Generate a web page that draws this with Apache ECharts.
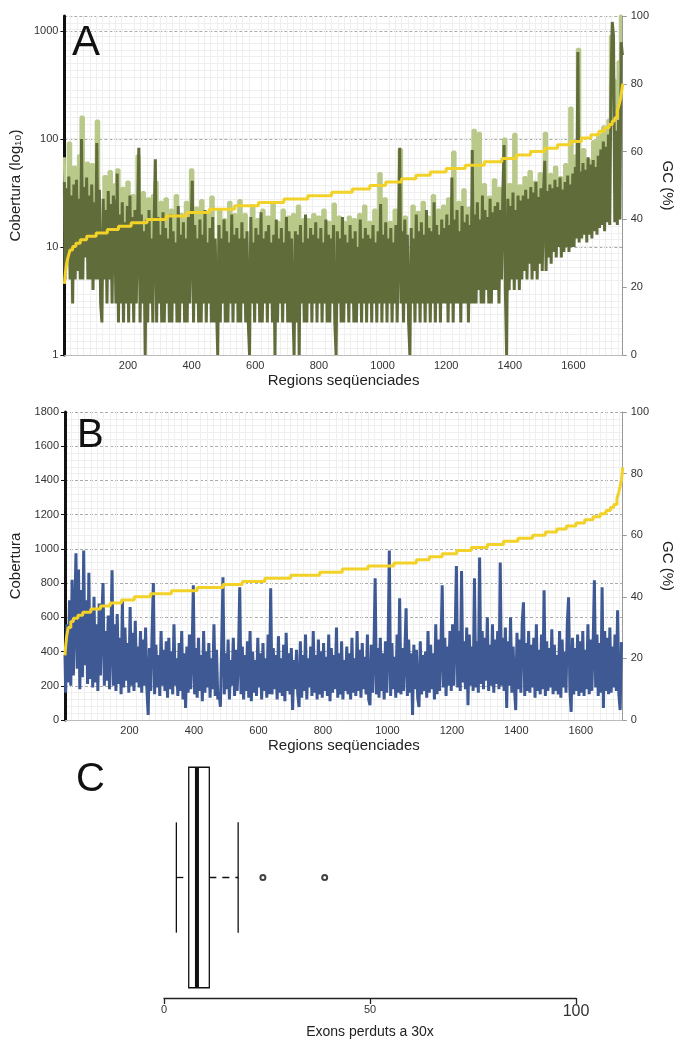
<!DOCTYPE html>
<html>
<head>
<meta charset="utf-8">
<script src="https://cdn.jsdelivr.net/npm/echarts@6/dist/echarts.min.js"></script>
<style>
  html, body { margin: 0; padding: 0; background: #ffffff; }
  #chart { width: 683px; height: 1042px; }
</style>
</head>
<body>
<div id="chart"></div>
<script>
// Regions between two stored coverage samples
const STEP = 4;        // dark sample (panel A) and panel B
const STEP_LIGHT = 8;  // light sample (panel A)

// Panel A: coverage (log scale) of the main sample, one value every STEP regions
const covADark = [
  40, 5, 35, 8, 45, 5, 30, 3, 38, 5, 42, 6, 28, 5, 100, 5, 36, 8, 44, 5,
  30, 5, 38, 4, 26, 5, 92, 5, 34, 3, 2, 28, 5, 22, 3, 33, 5, 25, 3, 30,
  22, 3, 48, 2, 20, 3, 26, 2, 17, 3, 24, 2, 30, 3, 19, 2, 22, 3, 16, 83,
  2, 20, 3, 14, 1, 18, 2, 22, 3, 12, 2, 16, 65, 2, 19, 3, 13, 2, 21, 2,
  15, 3, 12, 2, 20, 2, 14, 3, 11, 2, 24, 2, 13, 3, 17, 2, 12, 2, 19, 3,
  14, 41, 2, 16, 3, 12, 2, 18, 2, 13, 3, 22, 2, 11, 3, 15, 2, 19, 2, 12,
  3, 1, 16, 2, 12, 3, 18, 2, 14, 2, 11, 3, 20, 2, 13, 3, 15, 2, 12, 2,
  17, 3, 12, 2, 14, 2, 1, 19, 3, 11, 2, 15, 3, 13, 2, 21, 2, 12, 3, 14,
  2, 16, 3, 11, 2, 13, 1, 18, 2, 12, 3, 15, 2, 11, 3, 19, 2, 14, 2, 12,
  3, 1, 14, 2, 13, 1, 16, 3, 11, 2, 20, 2, 12, 3, 15, 2, 13, 3, 17, 2,
  12, 3, 15, 2, 11, 3, 18, 2, 13, 2, 12, 3, 16, 2, 1, 14, 3, 12, 2, 19,
  2, 13, 3, 11, 2, 16, 3, 12, 2, 14, 2, 10, 3, 18, 2, 12, 3, 15, 2, 13,
  3, 12, 2, 16, 3, 11, 2, 14, 3, 25, 2, 13, 3, 17, 2, 12, 3, 15, 2, 11,
  3, 16, 2, 12, 83, 3, 14, 2, 18, 3, 13, 2, 1, 15, 3, 12, 2, 20, 3, 14,
  2, 17, 3, 13, 2, 22, 3, 15, 2, 14, 3, 26, 2, 16, 3, 13, 2, 18, 3, 15,
  3, 20, 2, 16, 3, 44, 2, 18, 3, 22, 3, 14, 2, 24, 3, 17, 3, 20, 2, 16,
  3, 79, 3, 20, 3, 26, 4, 18, 3, 30, 3, 22, 4, 19, 3, 28, 3, 21, 4, 24,
  4, 26, 3, 22, 5, 30, 88, 4, 1, 28, 4, 24, 5, 32, 4, 22, 5, 30, 4, 27,
  5, 30, 6, 34, 5, 28, 7, 36, 5, 32, 6, 40, 5, 29, 7, 35, 6, 31, 63, 6,
  33, 8, 38, 7, 35, 9, 42, 8, 36, 10, 44, 8, 34, 9, 40, 10, 46, 9, 38, 10,
  48, 10, 55, 12, 640, 11, 50, 12, 60, 13, 52, 11, 68, 13, 58, 12, 64, 14, 55, 13,
  70, 15, 80, 16, 95, 14, 85, 17, 110, 16, 300, 1214, 900, 17, 120, 16, 150, 18, 790, 600
];
// Panel A: coverage of the second sample, one value every STEP_LIGHT regions
const covALight = [
  68, 10, 92, 8, 55, 12, 70, 160, 10, 60,
  12, 58, 10, 147, 14, 6, 45, 8, 50, 6,
  38, 52, 5, 35, 6, 40, 5, 30, 6, 70,
  5, 32, 4, 28, 6, 30, 40, 5, 26, 5,
  28, 6, 22, 5, 30, 5, 20, 6, 26, 5,
  52, 5, 23, 6, 27, 5, 20, 5, 29, 6,
  5, 22, 5, 18, 6, 26, 5, 20, 5, 27,
  6, 20, 5, 4, 24, 5, 18, 6, 22, 5,
  19, 6, 25, 4, 17, 5, 22, 5, 19, 6,
  20, 4, 24, 4, 18, 5, 18, 6, 20, 5,
  19, 5, 22, 6, 17, 5, 25, 4, 19, 5,
  17, 6, 19, 5, 18, 5, 20, 6, 24, 5,
  17, 5, 22, 6, 48, 5, 28, 6, 17, 5,
  22, 6, 80, 5, 19, 6, 4, 24, 6, 21,
  5, 26, 6, 19, 5, 30, 6, 22, 5, 24,
  6, 28, 6, 76, 5, 26, 6, 34, 6, 23,
  6, 121, 7, 113, 8, 38, 7, 29, 9, 42,
  8, 35, 9, 100, 4, 38, 10, 111, 8, 37,
  10, 44, 9, 50, 12, 40, 10, 48, 10, 113,
  12, 47, 11, 55, 13, 44, 12, 58, 14, 194,
  14, 70, 680, 16, 80, 15, 64, 18, 95, 17,
  110, 19, 130, 20, 150, 900, 350, 21, 520, 1400
];
// Panel A: GC content steps [region where the level starts, GC %]
const gcA = [
  [0, 21], [3, 24], [7, 27], [12, 29], [18, 31], [26, 32], [36, 33], [50, 34],
  [70, 35], [100, 36], [135, 37], [170, 38], [210, 39], [260, 40], [320, 41],
  [385, 42], [455, 43], [535, 44], [610, 45], [690, 46], [765, 47], [840, 48],
  [905, 49], [960, 50], [1010, 51], [1060, 52], [1105, 53], [1150, 54], [1200, 55],
  [1260, 56], [1320, 57], [1375, 58], [1420, 59], [1465, 60], [1510, 61], [1550, 62],
  [1590, 63], [1625, 64], [1655, 65], [1680, 66], [1698, 67], [1712, 68], [1722, 69],
  [1730, 70], [1738, 72], [1744, 74], [1749, 76], [1752, 78], [1755, 80]
];

// Panel B: coverage (linear scale), one value every STEP regions
const covB = [
  380, 160, 560, 220, 700, 200, 820, 260, 600, 974, 300, 880, 180, 760, 250, 991, 320, 700, 210, 860,
  240, 640, 190, 720, 220, 560, 170, 680, 260, 590, 800, 200, 520, 230, 610, 180, 470, 875, 200, 560,
  170, 620, 210, 480, 150, 700, 190, 540, 230, 450, 160, 660, 200, 510, 170, 580, 220, 430, 190, 520,
  160, 470, 200, 540, 180, 30, 420, 170, 500, 800, 150, 440, 190, 380, 140, 520, 200, 410, 170, 460,
  130, 480, 180, 400, 150, 560, 200, 360, 140, 450, 170, 520, 120, 390, 70, 430, 160, 500, 180, 370,
  787, 150, 420, 130, 480, 170, 380, 110, 520, 160, 400, 190, 450, 130, 360, 180, 560, 140, 410, 120,
  160, 77, 440, 834, 150, 390, 180, 470, 120, 350, 200, 480, 140, 410, 170, 370, 776, 150, 430, 120,
  380, 170, 460, 130, 520, 110, 400, 160, 350, 140, 480, 190, 390, 120, 450, 170, 360, 130, 500, 150,
  770, 150, 420, 180, 380, 120, 490, 160, 360, 140, 440, 110, 510, 170, 390, 150, 420, 58, 350, 180,
  410, 150, 76, 460, 130, 380, 170, 500, 120, 360, 190, 430, 140, 520, 160, 380, 120, 470, 150, 400,
  130, 450, 170, 370, 140, 500, 110, 420, 160, 380, 180, 540, 130, 390, 150, 460, 120, 350, 170, 430,
  150, 390, 120, 480, 160, 360, 140, 520, 170, 410, 130, 450, 180, 370, 150, 500, 120, 87, 440, 160,
  380, 828, 150, 420, 130, 480, 170, 390, 120, 460, 160, 410, 990, 140, 450, 180, 370, 130, 500, 160,
  711, 150, 420, 170, 380, 653, 140, 470, 160, 390, 29, 440, 180, 410, 130, 76, 460, 150, 380, 170,
  400, 130, 520, 160, 440, 180, 390, 120, 560, 150, 470, 170, 410, 787, 190, 480, 140, 430, 200, 520,
  170, 560, 200, 480, 900, 190, 520, 170, 870, 220, 460, 180, 540, 87, 500, 200, 430, 170, 828, 190,
  460, 160, 950, 210, 520, 180, 480, 230, 600, 170, 440, 200, 560, 160, 470, 210, 520, 180, 920, 200,
  480, 170, 540, 70, 460, 200, 600, 160, 430, 190, 58, 510, 180, 470, 160, 560, 688, 140, 450, 170,
  520, 160, 440, 190, 480, 130, 560, 170, 410, 150, 500, 180, 758, 140, 460, 170, 420, 190, 530, 150,
  440, 170, 380, 150, 520, 130, 470, 190, 400, 160, 560, 717, 180, 47, 480, 150, 420, 170, 500, 140,
  460, 160, 520, 140, 410, 180, 560, 150, 470, 170, 430, 816, 190, 500, 140, 450, 160, 776, 70, 520,
  170, 480, 150, 540, 160, 430, 190, 500, 170, 641, 150, 58, 455
];
// Panel B: GC content steps [region where the level starts, GC %]
const gcB = [
  [0, 21], [2, 24], [5, 27], [10, 30], [18, 32], [26, 33], [40, 34], [55, 35],
  [80, 36], [110, 37], [140, 38], [175, 39], [215, 40], [265, 41], [330, 42],
  [410, 43], [490, 44], [550, 45], [620, 46], [700, 47], [790, 48], [860, 49],
  [940, 50], [1020, 51], [1090, 52], [1130, 53], [1170, 54], [1215, 55], [1260, 56],
  [1310, 57], [1360, 58], [1405, 59], [1450, 60], [1490, 61], [1525, 62], [1555, 63],
  [1585, 64], [1612, 65], [1638, 66], [1660, 67], [1678, 68], [1692, 69], [1702, 70],
  [1712, 72], [1718, 74], [1722, 76], [1726, 78], [1730, 82]
];

// Panel C: exons lost at 30x — [min, Q1, median, Q3, max] and outliers
const lossBox = [3, 6, 8, 11, 18];
const lossOutliers = [24, 39];

const REGIONS_A = 1755;
const REGIONS_B = 1730;

const FONT = 'Liberation Sans, Arial, Helvetica, sans-serif';
const C_DARK = '#606c3a';
const C_LIGHT = '#b8c98a';
const C_BLUE = '#3e5994';
const C_GC = '#f2d228';
const C_MAJOR = '#aaaaaa';
const C_MINOR = '#efefef';

const toPairs = (arr, step) => arr.map((v, i) => [i * step, v]);
const plain = v => String(Math.round(v));

const labelStyle = { fontFamily: FONT, fontSize: 11, color: '#333' };
const nameStyle = { fontFamily: FONT, fontSize: 15, color: '#222' };

function regionAxis(gridIndex, max) {
  return {
    type: 'value', gridIndex, min: 0, max, interval: 200,
    axisLine: { show: true, lineStyle: { color: '#bbbbbb', width: 1 } },
    axisTick: { show: false },
    axisLabel: Object.assign({ margin: 5, showMinLabel: false, showMaxLabel: false, formatter: plain }, labelStyle),
    splitLine: { show: false },
    minorTick: { show: false, splitNumber: 10 },
    minorSplitLine: { show: true, lineStyle: { color: C_MINOR, width: 1 } },
    name: 'Regions seqüenciades', nameLocation: 'middle', nameGap: 18,
    nameTextStyle: nameStyle
  };
}

function gcAxis(gridIndex) {
  return {
    type: 'value', gridIndex, position: 'right', min: 0, max: 100, interval: 20,
    axisLine: { show: true, lineStyle: { color: '#999999', width: 1 } },
    axisTick: { show: true, length: 4, lineStyle: { color: '#999999' } },
    axisLabel: Object.assign({ margin: 8 }, labelStyle),
    splitLine: { show: false },
    minorTick: { show: false, splitNumber: 10 },
    minorSplitLine: { show: gridIndex === 0, lineStyle: { color: C_MINOR, width: 1 } },
    name: 'GC (%)', nameLocation: 'middle', nameRotate: -90, nameGap: 30,
    nameTextStyle: nameStyle
  };
}

const chart = echarts.init(document.getElementById('chart'), null, { renderer: 'canvas' });

chart.setOption({
  animation: false,
  backgroundColor: '#ffffff',
  grid: [
    { left: 64, top: 16, width: 579, height: 339 },
    { left: 65, top: 412, width: 578, height: 308 },
    { left: 164, top: 757, width: 412, height: 241 }
  ],
  xAxis: [
    regionAxis(0, REGIONS_A),
    regionAxis(1, REGIONS_B),
    {
      type: 'value', gridIndex: 2, min: 0, max: 100, interval: 50,
      axisLine: { show: true, lineStyle: { color: '#222', width: 1.3 } },
      axisTick: { show: true, length: 6, lineStyle: { color: '#222', width: 1.3 } },
      axisLabel: {
        margin: 6, fontFamily: FONT, fontSize: 11, color: '#333',
        formatter: v => (v === 100 ? '{big|100}' : String(v)),
        rich: { big: { fontFamily: FONT, fontSize: 16, color: '#333' } }
      },
      splitLine: { show: false },
      name: 'Exons perduts a 30x', nameLocation: 'middle', nameGap: 27,
      nameTextStyle: { fontFamily: FONT, fontSize: 14, color: '#222' }
    }
  ],
  yAxis: [
    {
      type: 'log', logBase: 10, gridIndex: 0, min: 1, max: 1380,
      axisLine: { show: true, lineStyle: { color: '#111', width: 3 } },
      axisTick: { show: true, length: 4, lineStyle: { color: '#111' } },
      axisLabel: Object.assign({ margin: 6, showMaxLabel: false, formatter: plain }, labelStyle),
      splitLine: { show: true, lineStyle: { color: C_MAJOR, type: [3, 2], width: 1 } },
      name: 'Cobertura (log₁₀)', nameLocation: 'middle', nameGap: 32,
      nameTextStyle: nameStyle
    },
    gcAxis(0),
    {
      type: 'value', gridIndex: 1, min: 0, max: 1800, interval: 200,
      axisLine: { show: true, lineStyle: { color: '#111', width: 3 } },
      axisTick: { show: true, length: 4, lineStyle: { color: '#111' } },
      axisLabel: Object.assign({ margin: 6, formatter: plain }, labelStyle),
      splitLine: { show: true, lineStyle: { color: C_MAJOR, type: [3, 2], width: 1 } },
      minorTick: { show: false, splitNumber: 5 },
      minorSplitLine: { show: true, lineStyle: { color: C_MINOR, width: 1 } },
      name: 'Cobertura', nameLocation: 'middle', nameGap: 32,
      nameTextStyle: nameStyle
    },
    gcAxis(1),
    { type: 'category', gridIndex: 2, data: [''], show: false }
  ],
  series: [
    {
      type: 'line', xAxisIndex: 0, yAxisIndex: 0, data: toPairs(covALight, STEP_LIGHT),
      step: 'middle', showSymbol: false, clip: true, z: 2,
      lineStyle: { color: C_LIGHT, width: 3 }
    },
    {
      type: 'line', xAxisIndex: 0, yAxisIndex: 0, data: toPairs(covADark, STEP),
      step: 'middle', showSymbol: false, clip: true, z: 3,
      lineStyle: { color: C_DARK, width: 3 }
    },
    {
      type: 'line', xAxisIndex: 0, yAxisIndex: 1, data: gcA,
      step: 'end', showSymbol: false, clip: true, z: 4,
      lineStyle: { color: C_GC, width: 3 }
    },
    {
      type: 'line', xAxisIndex: 1, yAxisIndex: 2, data: toPairs(covB, STEP),
      step: 'middle', showSymbol: false, clip: true, z: 3,
      lineStyle: { color: C_BLUE, width: 3 }
    },
    {
      type: 'line', xAxisIndex: 1, yAxisIndex: 3, data: gcB,
      step: 'end', showSymbol: false, clip: true, z: 4,
      lineStyle: { color: C_GC, width: 3 }
    },
    {
      // Box-and-whisker for exons lost at 30x
      type: 'custom', xAxisIndex: 2, yAxisIndex: 4,
      data: [[0].concat(lossBox)],
      renderItem: (params, api) => {
        const band = api.size([0, 1])[1];
        const yc = api.coord([0, 0])[1];
        const xMin = api.coord([api.value(1), 0])[0];
        const xQ1 = api.coord([api.value(2), 0])[0];
        const xMed = api.coord([api.value(3), 0])[0];
        const xQ3 = api.coord([api.value(4), 0])[0];
        const xMax = api.coord([api.value(5), 0])[0];
        const boxH = band * 0.915;
        const capH = boxH * 0.5;
        const ink = { stroke: '#111', lineWidth: 1.3, fill: null };
        const dashed = Object.assign({}, ink, { lineDash: [7, 6] });
        return {
          type: 'group',
          children: [
            { type: 'line', shape: { x1: xMin, y1: yc, x2: xQ1, y2: yc }, style: dashed },
            { type: 'line', shape: { x1: xQ3, y1: yc, x2: xMax, y2: yc }, style: dashed },
            { type: 'line', shape: { x1: xMin, y1: yc - capH / 2, x2: xMin, y2: yc + capH / 2 }, style: ink },
            { type: 'line', shape: { x1: xMax, y1: yc - capH / 2, x2: xMax, y2: yc + capH / 2 }, style: ink },
            { type: 'rect', shape: { x: xQ1, y: yc - boxH / 2, width: xQ3 - xQ1, height: boxH },
              style: { stroke: '#111', lineWidth: 1.3, fill: '#ffffff' } },
            { type: 'line', shape: { x1: xMed, y1: yc - boxH / 2, x2: xMed, y2: yc + boxH / 2 },
              style: { stroke: '#111', lineWidth: 4 } }
          ]
        };
      }
    },
    {
      type: 'scatter', xAxisIndex: 2, yAxisIndex: 4,
      data: lossOutliers.map(v => [v, 0]),
      symbol: 'emptyCircle', symbolSize: 5, z: 5,
      itemStyle: { color: '#111', borderColor: '#111', borderWidth: 1.3 }
    }
  ],
  graphic: [
    { type: 'text', left: 72, top: 22, z: 100, style: { text: 'A', font: '42px ' + FONT, fill: '#111' } },
    { type: 'text', left: 77, top: 416, z: 100, style: { text: 'B', font: '40px ' + FONT, fill: '#111' } },
    { type: 'text', left: 76, top: 760, z: 100, style: { text: 'C', font: '40px ' + FONT, fill: '#111' } }
  ]
});
</script>
</body>
</html>
